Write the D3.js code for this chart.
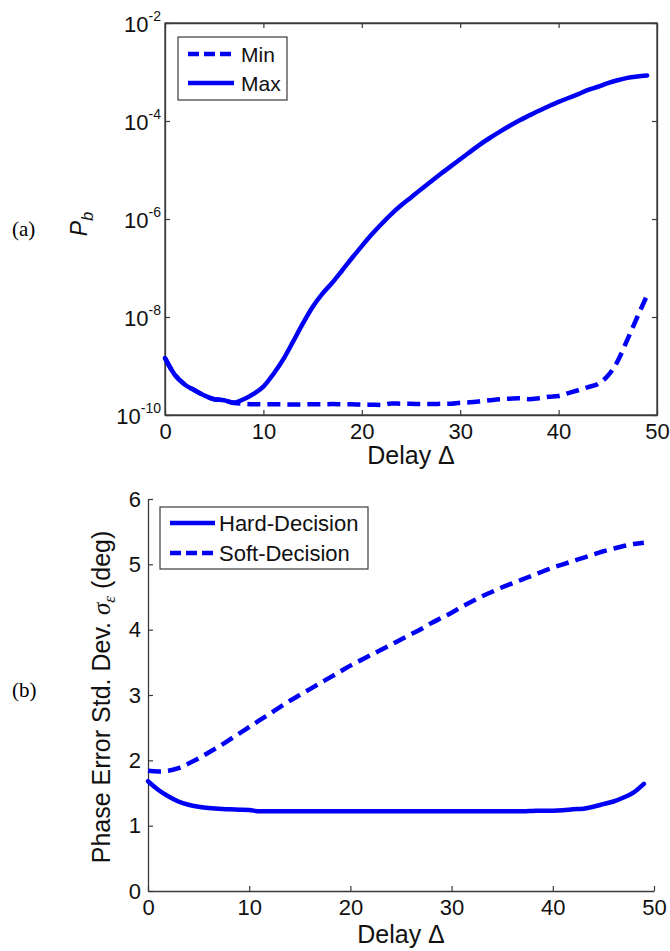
<!DOCTYPE html>
<html><head><meta charset="utf-8">
<script src="https://cdn.jsdelivr.net/npm/d3@7"></script>
<style>body{margin:0;background:#fff}svg{display:block}text{font-family:Arial,"Liberation Sans",sans-serif}</style>
</head><body>
<svg id="c" width="670" height="951"></svg>
<script>
// ---------- data ----------
const delay = d3.range(0, 50);
const pbMax = [1.45e-9,6.6e-10,4.2e-10,3.2e-10,2.5e-10,2.1e-10,2.0e-10,1.8e-10,2.1e-10,2.7e-10,
  3.8e-10,6.8e-10,1.35e-9,3.1e-9,7.3e-9,1.6e-8,3.0e-8,5.0e-8,8.9e-8,1.6e-7,
  2.8e-7,4.8e-7,7.9e-7,1.26e-6,1.9e-6,2.75e-6,4.0e-6,5.75e-6,8.3e-6,1.17e-5,
  1.66e-5,2.34e-5,3.3e-5,4.5e-5,6.0e-5,7.9e-5,1.02e-4,1.29e-4,1.62e-4,2.0e-4,
  2.45e-4,2.95e-4,3.55e-4,4.3e-4,5.0e-4,5.9e-4,6.8e-4,7.6e-4,8.1e-4,8.5e-4];
const pbMin = [1.45e-9,6.6e-10,4.2e-10,3.2e-10,2.5e-10,2.1e-10,2.0e-10,1.75e-10,1.7e-10,1.66e-10,
  1.65e-10,1.65e-10,1.65e-10,1.64e-10,1.65e-10,1.66e-10,1.66e-10,1.67e-10,1.66e-10,1.65e-10,
  1.64e-10,1.62e-10,1.6e-10,1.72e-10,1.7e-10,1.69e-10,1.68e-10,1.68e-10,1.69e-10,1.7e-10,
  1.78e-10,1.82e-10,1.9e-10,2.0e-10,2.1e-10,2.15e-10,2.2e-10,2.1e-10,2.2e-10,2.35e-10,
  2.45e-10,2.8e-10,3.2e-10,3.7e-10,4.3e-10,6.3e-10,1.26e-9,3.5e-9,1.0e-8,2.8e-8];
const hard = [1.68,1.55,1.45,1.37,1.32,1.29,1.27,1.26,1.25,1.245,
  1.24,1.22,1.22,1.22,1.22,1.22,1.22,1.22,1.22,1.22,
  1.22,1.22,1.22,1.22,1.22,1.22,1.22,1.22,1.22,1.22,
  1.22,1.22,1.22,1.22,1.22,1.22,1.22,1.22,1.225,1.23,
  1.23,1.235,1.25,1.26,1.29,1.33,1.37,1.43,1.51,1.64];
const soft = [1.84,1.83,1.84,1.88,1.95,2.03,2.12,2.21,2.31,2.41,
  2.51,2.61,2.71,2.81,2.91,3.0,3.09,3.18,3.27,3.36,
  3.45,3.53,3.61,3.69,3.77,3.85,3.93,4.01,4.1,4.18,
  4.26,4.35,4.43,4.51,4.58,4.65,4.71,4.77,4.83,4.89,
  4.95,5.0,5.05,5.1,5.15,5.2,5.24,5.28,5.31,5.33];
const xTicks = [0,10,20,30,40,50];
const logTicks = [1e-10,1e-8,1e-6,1e-4,1e-2];
const logTickExp = ["-10","-8","-6","-4","-2"];
const linTicks = [0,1,2,3,4,5,6];
const legendA = ["Min","Max"];
const legendB = ["Hard-Decision","Soft-Decision"];

// ---------- drawing ----------
const svg = d3.select("#c");
svg.append("rect").attr("width",670).attr("height",951).attr("fill","#fff");
const blue = "#0000f5", axc = "#3a3a3a";
const dash = "13,7";

function styleAxis(g){
  g.selectAll(".domain").attr("stroke",axc).attr("stroke-width",1.3);
  g.selectAll(".tick line").attr("stroke",axc).attr("stroke-width",1.2);
  g.selectAll("text").attr("fill","#111").style("font-size","22px").style("font-family","Arial, 'Liberation Sans', sans-serif");
}

// ===== Panel (a) =====
const A = {l:165, r:657, t:23, b:415};
const xa = d3.scaleLinear().domain([0,50]).range([A.l,A.r]);
const ya = d3.scaleLog().domain([1e-10,1e-2]).range([A.b,A.t]);

svg.append("rect").attr("x",A.l).attr("y",A.t).attr("width",A.r-A.l).attr("height",A.b-A.t)
  .attr("fill","none").attr("stroke",axc).attr("stroke-width",1.3);

const gxa = svg.append("g").attr("transform",`translate(0,${A.b})`)
  .call(d3.axisBottom(xa).tickValues(xTicks).tickSizeInner(-5).tickSizeOuter(0).tickPadding(8));
styleAxis(gxa);
const gxa2 = svg.append("g").attr("transform",`translate(0,${A.t})`)
  .call(d3.axisTop(xa).tickValues(xTicks).tickSizeInner(-5).tickSizeOuter(0).tickFormat(""));
styleAxis(gxa2);
const gya = svg.append("g").attr("transform",`translate(${A.l},0)`)
  .call(d3.axisLeft(ya).tickValues(logTicks).tickSizeInner(-5).tickSizeOuter(0).tickPadding(4).tickFormat(()=>""));
styleAxis(gya);
gya.selectAll(".tick text").each(function(d,i){
  const t = d3.select(this);
  t.append("tspan").text("10");
  t.append("tspan").text(logTickExp[i]).attr("dy","-11").style("font-size","14px");
}).attr("dy","0.38em");
const gya2 = svg.append("g").attr("transform",`translate(${A.r},0)`)
  .call(d3.axisRight(ya).tickValues(logTicks).tickSizeInner(-5).tickSizeOuter(0).tickFormat(""));
styleAxis(gya2);

const lineA = d3.line().x((d,i)=>xa(delay[i])).y(d=>ya(d)).curve(d3.curveMonotoneX);
svg.append("path").datum(pbMax).attr("d",lineA).attr("fill","none").attr("stroke",blue)
  .attr("stroke-width",4.5).attr("stroke-linejoin","round").attr("stroke-linecap","round");
svg.append("path").datum(pbMin).attr("d",lineA).attr("fill","none").attr("stroke",blue)
  .attr("stroke-width",4.5).attr("stroke-dasharray",dash);

// legend (a)
const lga = svg.append("g");
lga.append("rect").attr("x",178).attr("y",37).attr("width",109).attr("height",63)
  .attr("fill","#fff").attr("stroke",axc).attr("stroke-width",1.2);
legendA.forEach((name,i)=>{
  const y = 54 + i*29;
  lga.append("line").attr("x1",188).attr("x2",234).attr("y1",y).attr("y2",y)
    .attr("stroke",blue).attr("stroke-width",4.5).attr("stroke-dasharray",i===0?"11,5":null);
  lga.append("text").attr("x",241).attr("y",y).attr("dy","0.36em").text(name).style("font-size","21px").attr("fill","#111");
});

// labels (a)
svg.append("text").attr("x",12).attr("y",236).text("(a)")
  .style("font-family","'Liberation Serif','Times New Roman',serif").style("font-size","21px");
const pla = svg.append("text").attr("transform","translate(87,224) rotate(-90)").attr("text-anchor","middle")
  .style("font-size","23px").attr("fill","#111");
pla.append("tspan").text("P").style("font-style","italic");
pla.append("tspan").text("b").style("font-style","italic").style("font-size","16px").attr("dy","6");
svg.append("text").attr("x",(A.l+A.r)/2).attr("y",464).attr("text-anchor","middle")
  .text("Delay Δ").style("font-size","25px").attr("fill","#111");

// ===== Panel (b) =====
const B = {l:148, r:654, t:499, b:891};
const xb = d3.scaleLinear().domain([0,50]).range([B.l,B.r]);
const yb = d3.scaleLinear().domain([0,6]).range([B.b,B.t]);

const gxb = svg.append("g").attr("transform",`translate(0,${B.b})`)
  .call(d3.axisBottom(xb).tickValues(xTicks).tickSizeInner(-5).tickSizeOuter(0).tickPadding(8));
styleAxis(gxb);
const gyb = svg.append("g").attr("transform",`translate(${B.l},0)`)
  .call(d3.axisLeft(yb).tickValues(linTicks).tickFormat(d3.format("d")).tickSizeInner(-5).tickSizeOuter(0).tickPadding(7));
styleAxis(gyb);

const lineB = d3.line().x((d,i)=>xb(delay[i])).y(d=>yb(d)).curve(d3.curveMonotoneX);
svg.append("path").datum(hard).attr("d",lineB).attr("fill","none").attr("stroke",blue)
  .attr("stroke-width",4.5).attr("stroke-linejoin","round").attr("stroke-linecap","round");
svg.append("path").datum(soft).attr("d",lineB).attr("fill","none").attr("stroke",blue)
  .attr("stroke-width",4.5).attr("stroke-dasharray",dash);

// legend (b)
const lgb = svg.append("g");
lgb.append("rect").attr("x",160).attr("y",507).attr("width",208).attr("height",62)
  .attr("fill","#fff").attr("stroke",axc).attr("stroke-width",1.2);
legendB.forEach((name,i)=>{
  const y = 523 + i*30;
  lgb.append("line").attr("x1",170).attr("x2",215).attr("y1",y).attr("y2",y)
    .attr("stroke",blue).attr("stroke-width",4.5).attr("stroke-dasharray",i===1?"11,5":null);
  lgb.append("text").attr("x",219).attr("y",y).attr("dy","0.36em").text(name).style("font-size","22px").attr("fill","#111");
});

svg.append("text").attr("x",12).attr("y",697).text("(b)")
  .style("font-family","'Liberation Serif','Times New Roman',serif").style("font-size","21px");
const plb = svg.append("text").attr("transform","translate(110,697) rotate(-90)").attr("text-anchor","middle")
  .style("font-size","25px").attr("fill","#111");
plb.append("tspan").text("Phase Error Std. Dev. ");
plb.append("tspan").text("σ").style("font-style","italic").style("font-family","'Liberation Serif',serif");
plb.append("tspan").text("ε").style("font-style","italic").style("font-family","'Liberation Serif',serif").style("font-size","17px").attr("dy","5");
plb.append("tspan").text(" (deg)").attr("dy","-5");
svg.append("text").attr("x",(B.l+B.r)/2).attr("y",943).attr("text-anchor","middle")
  .text("Delay Δ").style("font-size","25px").attr("fill","#111");
</script>
</body></html>
